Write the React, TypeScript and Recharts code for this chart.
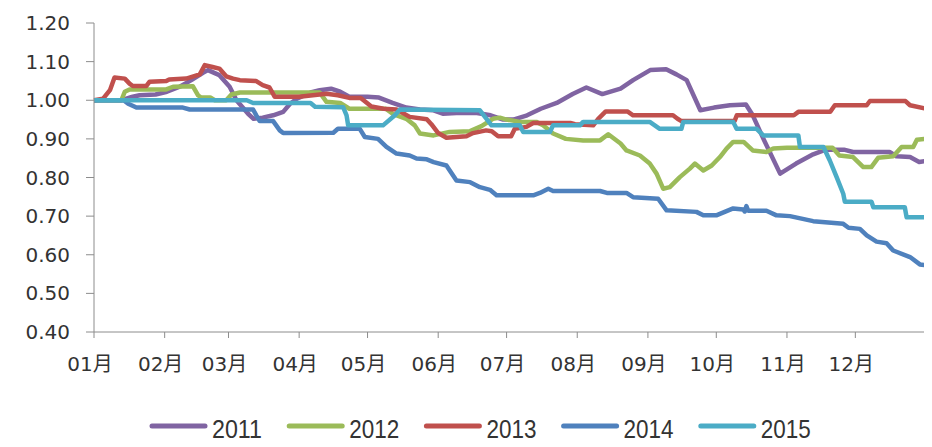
import React from 'react';
import { LineChart, Line, XAxis, YAxis, Legend } from 'recharts';

// x axis is day of year, ticks at month starts
const monthTicks = [0, 31, 59, 90, 120, 151, 181, 212, 243, 273, 304, 334, 365];
const monthLabels = ['01月', '02月', '03月', '04月', '05月', '06月', '07月', '08月', '09月', '10月', '11月', '12月', ''];
const yTicks = [0.4, 0.5, 0.6, 0.7, 0.8, 0.9, 1.0, 1.1, 1.2];

const years = ['2011', '2012', '2013', '2014', '2015'];
const colors = ['#8064A2', '#9BBB59', '#C0504D', '#4F81BD', '#4BACC6'];

const days2011 = [0, 12, 17, 20, 27, 32, 37.6, 42.7, 47.8, 50, 55, 59.5, 62.5, 67.6, 70, 74, 78.6, 83, 86, 89, 95, 99, 104, 108, 112, 120, 125, 131, 137, 143, 149, 153, 159, 168, 174, 179.5, 184, 190, 196, 203, 210, 216, 223, 231, 236.5, 244, 251, 255.5, 260, 266, 272, 279, 286, 289, 294, 301, 308, 315.5, 321, 329, 333, 349, 352, 358, 362, 365];
const vals2011 = [1.0, 1.0, 1.009, 1.013, 1.015, 1.022, 1.035, 1.052, 1.071, 1.078, 1.065, 1.035, 1.0, 0.965, 0.952, 0.955, 0.961, 0.97, 0.991, 1.004, 1.02, 1.026, 1.03, 1.022, 1.009, 1.009, 1.007, 0.993, 0.981, 0.976, 0.974, 0.965, 0.967, 0.967, 0.961, 0.95, 0.95, 0.961, 0.978, 0.993, 1.016, 1.033, 1.016, 1.03, 1.052, 1.078, 1.08, 1.067, 1.052, 0.974, 0.981, 0.987, 0.989, 0.961, 0.896, 0.81, 0.836, 0.86, 0.872, 0.872, 0.866, 0.866, 0.855, 0.853, 0.84, 0.843];

const days2012 = [0, 12, 13.5, 15.6, 31.7, 34.7, 43.4, 45.6, 47, 51, 53, 58, 60.3, 64, 99, 102, 108, 112, 128, 131, 137, 140.7, 143, 149, 156, 165, 170, 175, 178, 181, 187, 194, 197, 201.4, 207, 214.6, 222, 225.6, 231, 233.6, 239.5, 243.8, 246.8, 249.7, 252.6, 257, 261.4, 263.6, 267.3, 271, 274.6, 277.5, 280.4, 285, 289, 295, 298, 304, 324, 327, 333, 337.5, 341, 344, 350.6, 354.3, 359.4, 361, 365];
const vals2012 = [1.0, 1.0, 1.022, 1.028, 1.028, 1.035, 1.036, 1.013, 1.007, 1.007, 1.0, 1.0, 1.015, 1.02, 1.02, 0.996, 0.993, 0.978, 0.978, 0.965, 0.952, 0.935, 0.914, 0.909, 0.918, 0.92, 0.933, 0.952, 0.955, 0.95, 0.944, 0.944, 0.935, 0.914, 0.9, 0.896, 0.896, 0.912, 0.888, 0.87, 0.857, 0.836, 0.81, 0.771, 0.775, 0.801, 0.823, 0.836, 0.818, 0.831, 0.853, 0.875, 0.892, 0.892, 0.87, 0.866, 0.875, 0.877, 0.877, 0.857, 0.853, 0.827, 0.827, 0.851, 0.855, 0.879, 0.879, 0.898, 0.9];

const days2013 = [0, 4, 7, 9, 13.5, 15.6, 17, 23, 24.4, 31.7, 33, 40.5, 46.4, 48.6, 52, 55, 58, 61, 64, 71, 74, 77, 79.3, 90, 102, 107, 112, 117, 121.7, 127, 132.7, 138.5, 146, 148, 151, 154.6, 163.4, 166.3, 172, 174.5, 177.3, 183, 184.6, 189.7, 192.7, 209, 211, 219, 221.2, 224.5, 234, 236.5, 254, 256, 257.7, 281, 282, 307, 309, 323, 325, 339, 340.4, 356, 358, 365];
const vals2013 = [1.0, 1.004, 1.026, 1.059, 1.056, 1.043, 1.037, 1.037, 1.048, 1.05, 1.054, 1.056, 1.067, 1.091, 1.086, 1.082, 1.062, 1.056, 1.052, 1.05, 1.039, 1.033, 1.009, 1.009, 1.017, 1.013, 1.006, 1.006, 0.984, 0.978, 0.976, 0.957, 0.951, 0.938, 0.915, 0.903, 0.907, 0.915, 0.922, 0.92, 0.907, 0.907, 0.926, 0.931, 0.941, 0.941, 0.938, 0.935, 0.952, 0.971, 0.971, 0.961, 0.961, 0.952, 0.946, 0.946, 0.961, 0.961, 0.97, 0.97, 0.987, 0.987, 0.998, 0.998, 0.987, 0.978];

const days2014 = [0, 13, 15, 18.6, 39, 42, 69.8, 71.2, 72.7, 78.6, 81.5, 83, 105, 107, 116.6, 118.8, 124.6, 128.3, 132.7, 138.5, 141.5, 146, 149, 154.6, 159, 165, 169.3, 173.7, 176.6, 192.7, 195.6, 199.3, 201.4, 222, 225, 233.6, 236.5, 247.5, 251.2, 264.3, 267.3, 273, 280.4, 284.8, 285.5, 286.2, 287, 295, 299.4, 305.3, 315.5, 328.7, 331, 336, 339, 343.3, 347.7, 350.6, 358, 362.3, 365];
const vals2014 = [1.0, 1.0, 0.991, 0.981, 0.981, 0.976, 0.976, 0.961, 0.946, 0.946, 0.922, 0.915, 0.916, 0.926, 0.926, 0.905, 0.9, 0.879, 0.862, 0.857, 0.849, 0.847, 0.84, 0.831, 0.792, 0.788, 0.775, 0.768, 0.754, 0.754, 0.76, 0.771, 0.765, 0.765, 0.76, 0.76, 0.749, 0.745, 0.715, 0.711, 0.702, 0.702, 0.72, 0.717, 0.712, 0.726, 0.714, 0.714, 0.702, 0.7, 0.687, 0.68, 0.67, 0.667, 0.65, 0.634, 0.63, 0.611, 0.594, 0.575, 0.573];

const days2015 = [0, 67, 69.8, 95, 97, 109.3, 110.8, 111.5, 126.8, 132, 134.2, 169.3, 172.2, 174.4, 186.8, 188.3, 200, 201.4, 213.2, 214.6, 243.8, 248.2, 257.7, 258.5, 280.4, 281.9, 290.7, 293.6, 309, 309.7, 320, 322.8, 325.8, 328.7, 329.4, 341.1, 341.9, 355.7, 356.5, 365];
const vals2015 = [1.0, 1.0, 0.993, 0.993, 0.983, 0.982, 0.961, 0.935, 0.935, 0.961, 0.976, 0.974, 0.952, 0.935, 0.935, 0.918, 0.918, 0.935, 0.935, 0.944, 0.944, 0.926, 0.926, 0.944, 0.944, 0.926, 0.926, 0.909, 0.909, 0.879, 0.879, 0.844, 0.801, 0.758, 0.737, 0.737, 0.723, 0.723, 0.697, 0.697];

const allDays = [days2011, days2012, days2013, days2014, days2015];
const allVals = [vals2011, vals2012, vals2013, vals2014, vals2015];

const series = years.map((name, k) => ({
    name,
    color: colors[k],
    data: allDays[k].map((d, i) => ({ day: d, v: allVals[k][i] })),
}));

const AXIS_FONT = '"DejaVu Sans", "Noto Sans CJK SC", sans-serif';

const BottomLegend = () => (
    <svg width={924} height={40}>
        {series.map((s, i) => {
            const x = 144 + i * 137.2;
            return (
                <g key={s.name}>
                    <line x1={x} y1={19} x2={x + 53} y2={19} stroke={s.color} strokeWidth={5} strokeLinecap="round" />
                    <text
                        x={x + 60}
                        y={31}
                        fontSize={25}
                        fill="#333"
                        fontFamily='"Liberation Sans Narrow", "Liberation Sans", sans-serif'
                        textLength={50}
                        lengthAdjust="spacingAndGlyphs"
                    >
                        {s.name}
                    </text>
                </g>
            );
        })}
    </svg>
);

const App: React.FC = () => {
    return (
        <div style={{ width: 924, height: 439 }}>
            <LineChart width={924} height={439} margin={{ top: 15, right: 6, bottom: 0, left: 0 }}>
                <XAxis
                    dataKey="day"
                    type="number"
                    domain={[0, 365]}
                    ticks={monthTicks}
                    interval={0}
                    allowDuplicatedCategory={false}
                    tickFormatter={(d: number) => monthLabels[monthTicks.indexOf(d)] ?? ''}
                    stroke="#8c8c8c"
                    tickSize={6}
                    tickMargin={19}
                    height={75}
                    tick={{ fontSize: 20, fill: '#333', fontFamily: AXIS_FONT, dx: -4 }}
                />
                <YAxis
                    type="number"
                    domain={[0.4, 1.2]}
                    ticks={yTicks}
                    interval={0}
                    tickFormatter={(v: number) => v.toFixed(2)}
                    stroke="#8c8c8c"
                    tickSize={8}
                    tickMargin={16}
                    width={86}
                    tick={{ fontSize: 20, fill: '#333', fontFamily: AXIS_FONT }}
                />
                {series.map((s) => (
                    <Line
                        key={s.name}
                        data={s.data}
                        dataKey="v"
                        name={s.name}
                        type="linear"
                        stroke={s.color}
                        strokeWidth={4.5}
                        strokeLinejoin="round"
                        dot={false}
                        activeDot={false}
                        isAnimationActive={false}
                    />
                ))}
                <Legend
                    verticalAlign="bottom"
                    height={40}
                    content={<BottomLegend />}
                    wrapperStyle={{ left: 0, width: 924, height: 40 }}
                />
            </LineChart>
        </div>
    );
};

export default App;
